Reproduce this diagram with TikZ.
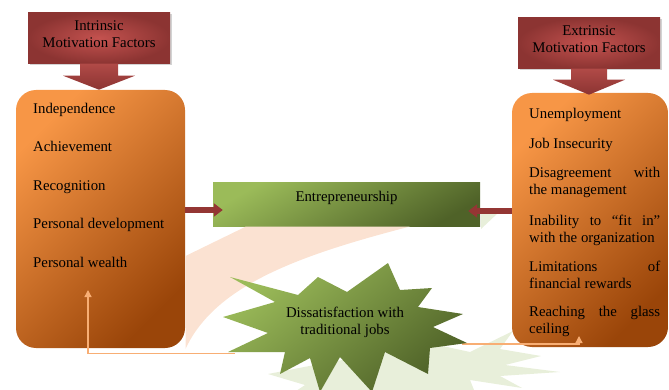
\documentclass[tikz,border=0pt]{standalone}
\usepackage{fontspec}
\setmainfont{Liberation Serif}
\usetikzlibrary{arrows.meta,shadows}

\definecolor{titlered}{HTML}{C4524F}
\definecolor{titledark}{HTML}{8C3432}
\definecolor{arrowred}{HTML}{943634}
\definecolor{orangelight}{HTML}{F79646}
\definecolor{orangedark}{HTML}{9A4509}
\definecolor{greenlight}{HTML}{9BBB59}
\definecolor{greendark}{HTML}{4F6228}
\definecolor{peach}{HTML}{FBE2D2}
\definecolor{palegreen}{HTML}{E8EFDA}
\definecolor{connorange}{HTML}{F8AE74}

\tikzset{
  titlebox/.style={rectangle, inner color=titlered, outer color=titledark,
    minimum width=142pt, minimum height=51pt, align=center, text depth=7pt,
    drop shadow={shadow xshift=1.5pt, shadow yshift=-1.5pt, opacity=.35}},
  downarrow/.style={top color=titlered!90!black, bottom color=titledark},
  factbox/.style={rectangle, rounded corners=20pt, top color=orangelight,
    bottom color=orangedark, shading angle=45},
  greenbox/.style={rectangle, top color=greenlight, bottom color=greendark,
    shading angle=30, minimum width=267pt, minimum height=43pt,
    inner ysep=6pt, text height=13pt, text depth=18pt},
  starshade/.style={top color=greenlight, bottom color=greendark, shading angle=40},
  item/.style={inner sep=0pt},
  redarrow/.style={arrowred, line width=6.5pt, -{Triangle[length=9pt,width=13pt]}},
  connector/.style={connorange, line width=1.3pt, -{Triangle[length=7pt,width=7pt]}}
}

\begin{document}
\begin{tikzpicture}[x=1pt,y=-1pt,font=\fontsize{14.8}{17}\selectfont]
\useasboundingbox (0,0) rectangle (669,390);

% reflection of the star
\fill[palegreen] (268,374) -- (330,362) -- (438,345) -- (470,352) -- (513,331)
  -- (500,349) -- (541,356) -- (505,365) -- (560,372) -- (500,376) -- (522,388)
  -- (470,380) -- (476,395) -- (290,395) -- (305,385) -- cycle;
\fill[palegreen] (481,213) -- (498,213) -- (481,229) -- cycle;

% factor boxes
\node[factbox, minimum width=169pt, minimum height=258pt] (IntBox) at (100.5,219) {};
\node[factbox, minimum width=156pt, minimum height=254pt] (ExtBox) at (590,220) {};

% titles
\node[titlebox] (IntTitle) at (99,38) {Intrinsic\\Motivation Factors};
\node[titlebox] (ExtTitle) at (589,43) {Extrinsic\\Motivation Factors};
\shade[downarrow] (IntTitle.south) ++(-19,0) -- ++(0,12) -- ++(-17,0) -- ++(36,14)
  -- ++(36,-14) -- ++(-17,0) -- ++(0,-12) -- cycle;
\shade[downarrow] (ExtTitle.south) ++(-18,0) -- ++(0,11) -- ++(-18,0) -- ++(36,15)
  -- ++(36,-15) -- ++(-18,0) -- ++(0,-11) -- cycle;

% lists
\foreach \y/\t [count=\i] in {114/Independence, 152/Achievement, 190/Recognition,
    229/Personal development, 267/Personal wealth}
  \node[item, anchor=base west] (IntItem\i) at (33,\y) {\t};
\foreach \y/\t [count=\i] in {108.5/Unemployment, 138.5/Job Insecurity,
    167.5/{Disagreement with\linebreak the management},
    214.5/{Inability to “fit in”\linebreak with the organization},
    260.5/{Limitations of\linebreak financial rewards},
    306.5/{Reaching the glass\linebreak ceiling}}
  \node[item, anchor=north west, text width=131pt, align=justify] (ExtItem\i) at (529,\y) {\t};

% entrepreneurship
\node[greenbox] (Entre) at (346.5,204.5) {Entrepreneurship};
\draw[redarrow, shorten >=-10pt] (IntBox.east |- 0,210) -- (Entre.west |- 0,210);
\draw[redarrow, shorten >=-12pt] (ExtBox.west |- 0,211) -- (Entre.east |- 0,211);

% reflection below entrepreneurship
\fill[peach] (185.5,256) -- (246,226.5) -- (410,226.5)
  .. controls (300,255) and (215,285) .. (185.5,349) -- cycle;

% feedback lines
\coordinate (StarLeft) at (235,353.5);
\coordinate (StarRight) at (462,344);
\coordinate (IntEnd) at (88,290);
\coordinate (ExtEnd) at (579,336);
\draw[connector] (StarLeft) -| (IntEnd);
\draw[connector] (StarRight) -| (ExtEnd);

% star
\shade[starshade] (223,317) -- (275,302) -- (230,277) -- (298,295) -- (318,277)
  -- (347,292) -- (388,263) -- (400,290) -- (432,288) -- (418,307) -- (463,314)
  -- (433,327) -- (467,343) -- (430,348) -- (428,374) -- (385,352) -- (372,392)
  -- (340,357) -- (320,392) -- (310,358) -- (280,374) -- (285,352) -- (228,352)
  -- (268,333) -- cycle;
\node[item, align=center] (Dissat) at (345,322) {Dissatisfaction with\\traditional jobs};
\end{tikzpicture}
\end{document}
